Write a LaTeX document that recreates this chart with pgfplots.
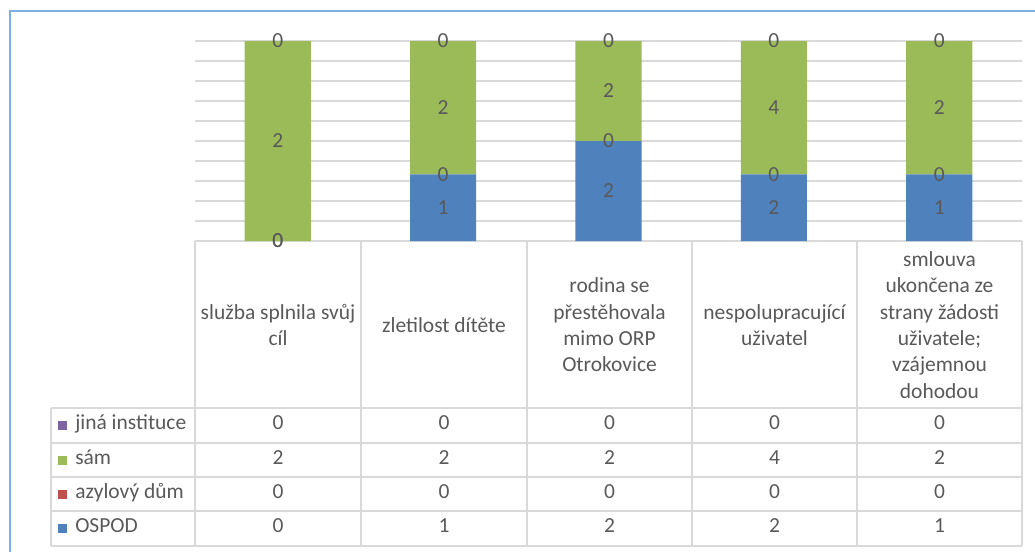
\documentclass[border=0pt]{standalone}
\usepackage{pgfplots}
\pgfplotsset{compat=1.18}
\usepackage{pgfplotstable}
\usepackage{fontspec}
\setmainfont{Carlito}
\definecolor{ospod}{HTML}{4F81BD}
\definecolor{azyl}{HTML}{C0504D}
\definecolor{sam}{HTML}{9BBB59}
\definecolor{jina}{HTML}{8064A2}
\definecolor{txt}{HTML}{595959}
\definecolor{grd}{HTML}{D9D9D9}
\definecolor{frm}{RGB}{125,175,228}
% raw counts, their shares (100 % stacked) and label positions (middle of each segment)
\pgfplotstableread{
x ospod azyl sam jina ospodP azylP samP jinaP ospodL azylL samL jinaL
0 0 0 2 0 0      0 100    0 0      0      50     100
1 1 0 2 0 33.333 0 66.667 0 16.667 33.333 66.667 100
2 2 0 2 0 50     0 50     0 25     50     75     100
3 2 0 4 0 33.333 0 66.667 0 16.667 33.333 66.667 100
4 1 0 2 0 33.333 0 66.667 0 16.667 33.333 66.667 100
}\data
\newcommand\fs{\fontsize{16.1}{19.7}\selectfont}
\pgfplotsset{
  base/.style={
    at={(146.25pt,-180.75pt)}, anchor=south west,
    scale only axis, width=620.25pt, height=150pt,
    xmin=-0.5, xmax=4.5, ymin=0, ymax=100,
    axis line style={draw=none}, tick style={draw=none},
    xtick=\empty, clip=false,
  }
}
\begin{document}
\begin{tikzpicture}
\useasboundingbox (0,0) rectangle (776.25pt,-413.25pt);
\clip (0,0) rectangle (776.25pt,-413.25pt);
\begin{scope}[x=0.75pt,y=-0.75pt]
\draw[frm, line width=1.5pt] (10,11) rectangle (1100,600);
% table grid
\begin{scope}[grd, line width=1.1pt]
\draw (195,241)--(1022,241);
\foreach \yy in {408,443,477,511,546} \draw (51,\yy)--(1022,\yy);
\foreach \xx in {195,361,527,692,857,1022} \draw (\xx,241)--(\xx,546);
\draw (51,408)--(51,546);
\end{scope}
% header
\begin{scope}[every node/.style={font=\fs, text=txt, align=center, inner sep=0pt, anchor=center}]
\node at (278,325) {služba splnila svůj\\cíl};
\node at (444,325) {zletilost dítěte};
\node at (609.5,325) {rodina se\\přestěhovala\\mimo ORP\\Otrokovice};
\node at (774.5,325) {nespolupracující\\uživatel};
\node at (939.5,325) {smlouva\\ukončena ze\\strany žádosti\\uživatele;\\vzájemnou\\dohodou};
\end{scope}
% legend column
\begin{scope}[every node/.style={font=\fs, text=txt, inner sep=0pt, anchor=west, text height=0.63em, text depth=0pt}]
\fill[jina] (58,421) rectangle (67,430); \node at (75,425.5) {jiná instituce};
\fill[sam] (58,455.5) rectangle (67,464.5); \node at (75,460) {sám};
\fill[azyl] (58,489.5) rectangle (67,498.5); \node at (75,494) {azylový dům};
\fill[ospod] (58,524) rectangle (67,533); \node at (75,528.5) {OSPOD};
\end{scope}
% values
\begin{scope}[every node/.style={font=\fs, text=txt, inner sep=0pt, anchor=center, text height=0.63em, text depth=0pt}]
\foreach \cx/\a/\b/\c/\d in {278/0/2/0/0, 444/0/2/0/1, 609.5/0/2/0/2, 774.5/0/4/0/2, 939.5/0/2/0/1}{
  \node at (\cx,425.5) {\a};
  \node at (\cx,460) {\b};
  \node at (\cx,494) {\c};
  \node at (\cx,528.5) {\d};
}
\end{scope}
\end{scope}
\begin{axis}[base,
  ybar stacked, bar width=0.4,
  ytick={0,10,...,100}, yticklabels={},
  ymajorgrids, major grid style={grd, line width=1.1pt}]
\addplot[fill=ospod, draw=none] table[x=x,y=ospodP]{\data};
\addplot[fill=azyl, draw=none] table[x=x,y=azylP]{\data};
\addplot[fill=sam, draw=none] table[x=x,y=samP]{\data};
\addplot[fill=jina, draw=none] table[x=x,y=jinaP]{\data};
\end{axis}
\begin{axis}[base, ytick=\empty,
  /pgf/number format/assume math mode=true,
  nodes near coords, point meta=explicit,
  every node near coord/.append style={font=\fs, text=txt, anchor=center, inner sep=0pt}]
\addplot[draw=none, mark=none] table[x=x,y=ospodL,meta=ospod]{\data};
\addplot[draw=none, mark=none] table[x=x,y=azylL,meta=azyl]{\data};
\addplot[draw=none, mark=none] table[x=x,y=samL,meta=sam]{\data};
\addplot[draw=none, mark=none] table[x=x,y=jinaL,meta=jina]{\data};
\end{axis}
\end{tikzpicture}
\end{document}
